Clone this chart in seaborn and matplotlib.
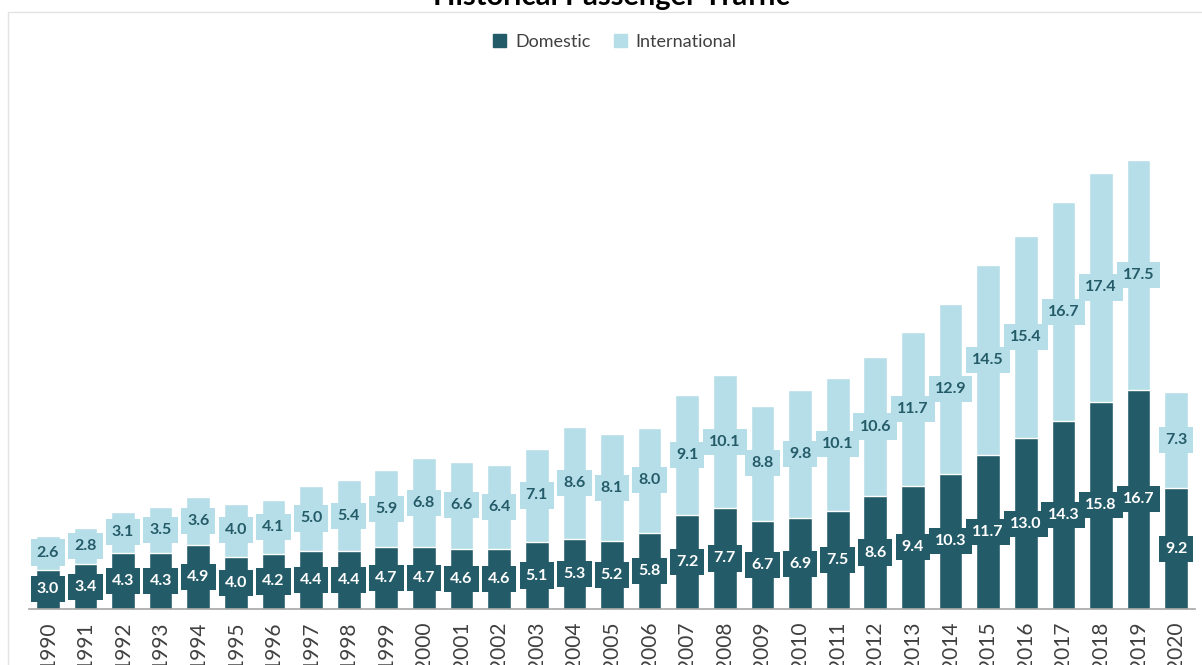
import matplotlib
matplotlib.use("Agg")
import matplotlib.pyplot as plt
import matplotlib.lines as mlines
import matplotlib.patches as mpatches
import seaborn as sns
import pandas as pd

# %% Data
years = [str(y) for y in range(1990, 2021)]
domestic = [3.0, 3.4, 4.3, 4.3, 4.9, 4.0, 4.2, 4.4, 4.4, 4.7, 4.7, 4.6, 4.6, 5.1,
            5.3, 5.2, 5.8, 7.2, 7.7, 6.7, 6.9, 7.5, 8.6, 9.4, 10.3, 11.7, 13.0,
            14.3, 15.8, 16.7, 9.2]
international = [2.6, 2.8, 3.1, 3.5, 3.6, 4.0, 4.1, 5.0, 5.4, 5.9, 6.8, 6.6, 6.4,
                 7.1, 8.6, 8.1, 8.0, 9.1, 10.1, 8.8, 9.8, 10.1, 10.6, 11.7, 12.9,
                 14.5, 15.4, 16.7, 17.4, 17.5, 7.3]

df = pd.DataFrame({"year": years, "domestic": domestic, "international": international})
df["total"] = df["domestic"] + df["international"]

dark = "#245B68"
light = "#B6DEE8"

# %% Style
sns.set_style("white")
plt.rcParams["font.family"] = ["Lato", "DejaVu Sans"]

fig = plt.figure(figsize=(12.02, 6.65), dpi=100)
W, H = 1202, 665
ax = fig.add_axes([29 / W, 56 / H, 1166 / W, 525 / H])

sns.barplot(data=df, x="year", y="total", color=light, saturation=1,
            width=0.63, ax=ax, zorder=2)
sns.barplot(data=df, x="year", y="domestic", color=dark, saturation=1,
            width=0.63, ax=ax, zorder=2)

# data labels, boxed in segment colour
lab_kw = dict(ha="center", va="center", fontsize=11.5, fontweight="bold", zorder=5)
for i, row in df.iterrows():
    ax.text(i, row["domestic"] / 2, f"{row['domestic']:.1f}", color="white",
            bbox=dict(boxstyle="square,pad=0.38", fc=dark, ec="none"), **lab_kw)
    ax.text(i, row["domestic"] + row["international"] / 2, f"{row['international']:.1f}",
            color=dark, bbox=dict(boxstyle="square,pad=0.38", fc=light, ec="none"), **lab_kw)

ax.set_xlim(-0.5, len(years) - 0.5)
ax.set_ylim(0, 40)
ax.set_xlabel("")
ax.set_ylabel("")
ax.set_yticks([])
ax.tick_params(axis="x", rotation=90, labelsize=15, colors="#404040", length=0, pad=9)
for s in ["top", "left", "right"]:
    ax.spines[s].set_visible(False)
ax.spines["bottom"].set_color("#A6A6A6")
ax.spines["bottom"].set_linewidth(1.2)

# legend
handles = [mpatches.Patch(color=dark, label="Domestic"),
           mpatches.Patch(color=light, label="International")]
fig.legend(handles=handles, loc="center", bbox_to_anchor=(615 / W, 1 - 42 / H), ncol=2,
           frameon=False, fontsize=13, handlelength=0.7, handleheight=0.7,
           handletextpad=0.5, columnspacing=1.3, labelcolor="#404040")

# title (partly cut at the top edge)
fig.text(611 / W, 1 - 5 / H, "Historical Passenger Traffic", ha="center", va="baseline",
         fontsize=21, fontweight="bold", color="black")

# chart-area border
fig.add_artist(mlines.Line2D([8 / W, 8 / W], [0, 1 - 12 / H], color="#E3E3E3", lw=1))
fig.add_artist(mlines.Line2D([8 / W, 1], [1 - 12 / H, 1 - 12 / H], color="#E3E3E3", lw=1))

fig.savefig("out.png", dpi=100)
